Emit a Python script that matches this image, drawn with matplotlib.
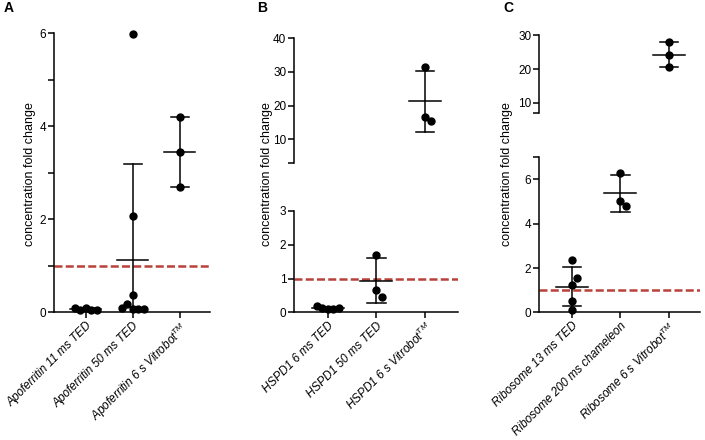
import numpy as np
import matplotlib.pyplot as plt

plt.rcParams['font.family'] = 'Liberation Sans'
plt.rcParams['mathtext.fontset'] = 'custom'
plt.rcParams['mathtext.it'] = 'Liberation Sans:italic'
plt.rcParams['mathtext.rm'] = 'Liberation Sans'

# Panel A - apoferritin
apo_labels = ['Apoferritin 11 ms TED', 'Apoferritin 50 ms TED',
              r'Apoferritin 6 s Vitrobot$^{\mathit{TM}}$']
apo_11ms = [0.10, 0.06, 0.05, 0.06, 0.09]
apo_50ms = [5.97, 2.08, 0.38, 0.07, 0.07, 0.17, 0.08, 0.10]
apo_vitrobot = [4.20, 3.45, 2.70]

# Panel B - HSPD1
hspd_labels = ['HSPD1 6 ms TED', 'HSPD1 50 ms TED',
               r'HSPD1 6 s Vitrobot$^{\mathit{TM}}$']
hspd_6ms = [0.10, 0.10, 0.13, 0.12, 0.20]
hspd_50ms = [1.70, 0.67, 0.45]
hspd_vitrobot = [31.5, 16.7, 15.5]

# Panel C - ribosome
ribo_labels = ['Ribosome 13 ms TED', 'Ribosome 200 ms chameleon',
               r'Ribosome 6 s Vitrobot$^{\mathit{TM}}$']
ribo_13ms = [2.35, 1.25, 1.55, 0.50, 0.12]
ribo_200ms = [6.30, 5.00, 4.78]
ribo_vitrobot = [28.0, 24.3, 20.6]

W, H = 705, 440
fig = plt.figure(figsize=(W / 100, H / 100), dpi=100)

LW = 1.1
RED = '#b8413b'


def swarm(vals, ppx, ppy, step=5.5, dy=8.0):
    # graphpad-like scatter: dots that sit at nearly the same height
    # are pushed sideways in columns (pixel units)
    placed = []
    for v in vals:
        for s in [0, 1, -1, 2, -2, 3, -3, 4, -4]:
            dx = s * step
            if all(abs(dx - px) >= step - 0.5 or abs(v - pv) * ppy >= dy
                   for px, pv in placed):
                break
        placed.append((dx, v))
    return np.array([p[0] for p in placed]) / ppx


def pix_scale(ax):
    bb = ax.get_position()
    x0, x1 = ax.get_xlim()
    y0, y1 = ax.get_ylim()
    return bb.width * W / (x1 - x0), bb.height * H / (y1 - y0)


def draw_group(ax, x, vals):
    vals = np.asarray(vals)
    m = vals.mean()
    sd = vals.std(ddof=1)
    ax.plot([x - 0.33, x + 0.33], [m, m], color='k', lw=LW, zorder=2)
    ax.plot([x, x], [m - sd, m + sd], color='k', lw=LW, zorder=2)
    for y in (m - sd, m + sd):
        ax.plot([x - 0.19, x + 0.19], [y, y], color='k', lw=LW, zorder=2)
    ppx, ppy = pix_scale(ax)
    ax.plot(x + swarm(vals, ppx, ppy), vals, 'o', color='k', ms=5,
            clip_on=False, zorder=3)


def style(ax, bottom=True):
    for s in ['top', 'right']:
        ax.spines[s].set_visible(False)
    ax.spines['left'].set_linewidth(LW)
    ax.spines['bottom'].set_linewidth(LW)
    ax.tick_params(which='both', direction='out', length=4, width=LW,
                   labelsize=8.5, pad=1.5)
    if not bottom:
        ax.spines['bottom'].set_visible(False)
        ax.set_xticks([])


def xlabels(ax, labels):
    ax.set_xticks([1, 2, 3])
    ax.set_xticklabels(labels, rotation=45, ha='right', va='top',
                       rotation_mode='anchor', style='italic', fontsize=8.5)


# ---- A ----
axA = fig.add_axes([54 / W, 0.29, 156 / W, 0.635])
axA.set_xlim(0.32, 3.64)
axA.set_ylim(0, 6)
style(axA)
axA.set_yticks([0, 2, 4, 6])
axA.set_yticks([1, 3, 5], minor=True)
xlabels(axA, apo_labels)
axA.axhline(1, color=RED, lw=1.8, dashes=(3.2, 1.3), zorder=1)
for i, g in enumerate([apo_11ms, apo_50ms, apo_vitrobot]):
    draw_group(axA, i + 1, g)

# ---- B ----
axB = fig.add_axes([294 / W, 0.29, 164 / W, 0.2305])
axB2 = fig.add_axes([294 / W, 0.6295, 164 / W, 0.284])
axB.set_xlim(0.30, 3.68)
axB2.set_xlim(0.30, 3.68)
axB.set_ylim(0, 3)
axB2.set_ylim(3, 40)
style(axB)
style(axB2, bottom=False)
axB.set_yticks([0, 1, 2, 3])
axB2.set_yticks([10, 20, 30, 40])
axB2.set_yticks([3], minor=True)
xlabels(axB, hspd_labels)
axB.axhline(1, color=RED, lw=1.8, dashes=(3.2, 1.3), zorder=1)
draw_group(axB, 1, hspd_6ms)
draw_group(axB, 2, hspd_50ms)
draw_group(axB2, 3, hspd_vitrobot)

# ---- C ----
axC = fig.add_axes([539 / W, 0.29, 161 / W, 0.353])
axC2 = fig.add_axes([539 / W, 0.743, 161 / W, 0.177])
axC.set_xlim(0.32, 3.64)
axC2.set_xlim(0.32, 3.64)
axC.set_ylim(0, 7)
axC2.set_ylim(7, 30)
style(axC)
style(axC2, bottom=False)
axC.set_yticks([0, 2, 4, 6])
axC.set_yticks([7], minor=True)
axC2.set_yticks([10, 20, 30])
axC2.set_yticks([7], minor=True)
xlabels(axC, ribo_labels)
axC.axhline(1, color=RED, lw=1.8, dashes=(3.2, 1.3), zorder=1)
draw_group(axC, 1, ribo_13ms)
draw_group(axC, 2, ribo_200ms)
draw_group(axC2, 3, ribo_vitrobot)

# y labels and panel letters
for x in (30, 267, 507):
    fig.text(x / W, 0.605, 'concentration fold change', rotation=90,
             ha='center', va='center', fontsize=9)
for x, t in ((4, 'A'), (257, 'B'), (503, 'C')):
    fig.text(x / W, 1 - 8 / H, t, weight='bold', fontsize=10, va='center')

fig.savefig('out.png', dpi=100)
